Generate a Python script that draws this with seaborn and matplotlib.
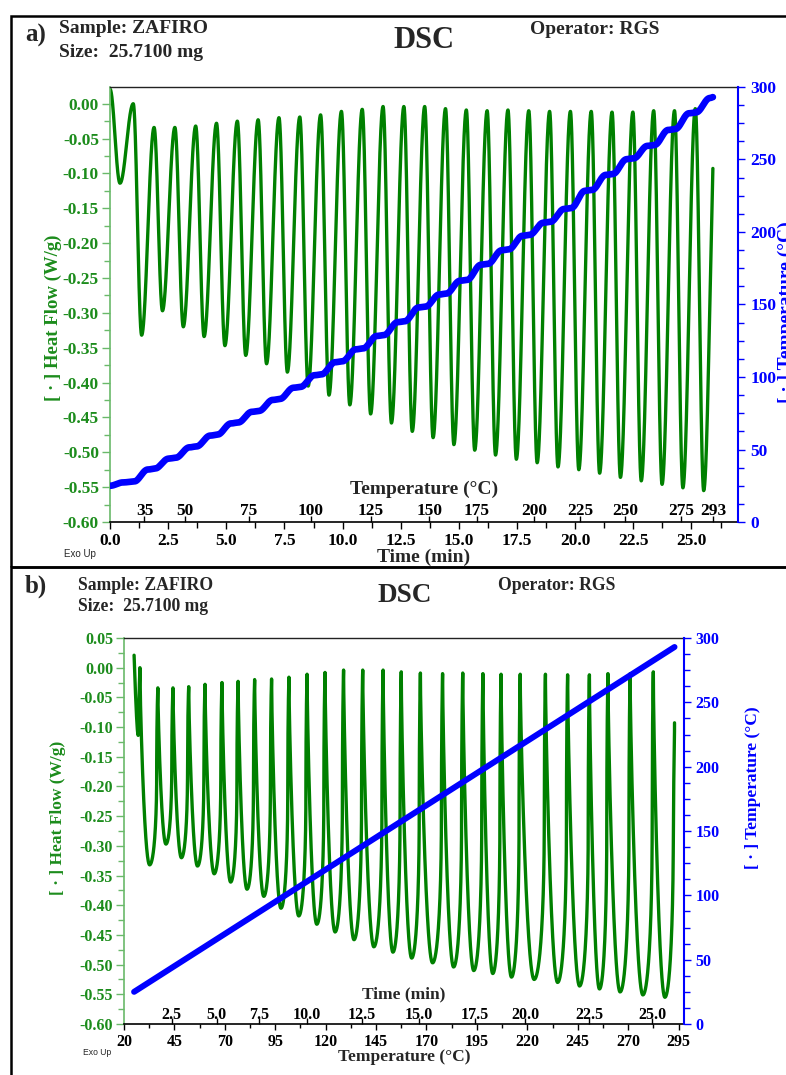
import numpy as np
import matplotlib
matplotlib.use("Agg")
import matplotlib.pyplot as plt
from matplotlib.ticker import MultipleLocator, FixedLocator, FuncFormatter
from matplotlib.patches import Rectangle
import seaborn as sns

# ---------------------------------------------------------------------------
# Modulated DSC run: sample ZAFIRO, 25.7100 mg, operator RGS
# ---------------------------------------------------------------------------
sample_label = "Sample: ZAFIRO"
size_label = "Size:  25.7100 mg"
operator_label = "Operator: RGS"

cycle_period = 0.895        # min, modulation period
first_peak_time = 1.00      # min, first heat-flow maximum
trough_lag = 0.36           # min from each maximum to the following minimum
run_end = 25.92             # min, last recorded point

hf_start = 0.021            # W/g at t = 0
hf_first_dip = -0.114       # W/g, start-up dip
hf_first_dip_time = 0.43    # min
hf_last_rise = -0.005       # W/g, level the final upswing heads for

# heat-flow maxima, one per modulation cycle (W/g)
hf_peaks = [0.000, -0.034, -0.034, -0.032, -0.028, -0.025, -0.023, -0.020,
            -0.019, -0.016, -0.011, -0.008, -0.004, -0.004, -0.004, -0.007,
            -0.009, -0.010, -0.009, -0.010, -0.011, -0.011, -0.011, -0.012,
            -0.012, -0.010, -0.010, -0.007]
# heat-flow minima following each maximum (W/g)
hf_troughs = [-0.332, -0.297, -0.320, -0.334, -0.347, -0.361, -0.373, -0.385,
              -0.405, -0.418, -0.432, -0.445, -0.458, -0.470, -0.479, -0.489,
              -0.497, -0.504, -0.510, -0.515, -0.521, -0.525, -0.530, -0.536,
              -0.541, -0.546, -0.551, -0.555]

# sample temperature at the end of each isothermal step (°C)
temp_start = 25.0
plateau_temps = [27.9, 36.8, 44.3, 52.1, 60.2, 68.6, 76.6, 84.8, 93.2, 101.8,
                 110.8, 119.7, 128.9, 138.4, 148.5, 157.5, 167.0, 178.0, 188.0,
                 198.0, 207.0, 216.5, 229.0, 240.0, 250.8, 260.0, 271.0, 282.5,
                 293.0]
plateau_drift = 0.6         # °C creep across an isothermal step
heat_on_delay = 0.03        # min after a heat-flow maximum
heat_on_length = 0.60       # min of active heating per cycle

# secondary scale labels
temp_marks_a = [35, 50, 75, 100, 125, 150, 175, 200, 225, 250, 275, 293]
time_marks_b = [2.5, 5.0, 7.5, 10.0, 12.5, 15.0, 17.5, 20.0, 22.5, 25.0]


def eased_path(grid, knot_t, knot_v):
    """Join consecutive knots with half-cosine segments."""
    knot_t = np.asarray(knot_t, float)
    knot_v = np.asarray(knot_v, float)
    idx = np.clip(np.searchsorted(knot_t, grid, side="right") - 1, 0, len(knot_t) - 2)
    t0, t1 = knot_t[idx], knot_t[idx + 1]
    v0, v1 = knot_v[idx], knot_v[idx + 1]
    u = np.clip((grid - t0) / (t1 - t0), 0.0, 1.0)
    return v0 + (v1 - v0) * (1.0 - np.cos(np.pi * u)) / 2.0


n_cycles = len(hf_peaks)
peak_times = first_peak_time + cycle_period * np.arange(n_cycles)
trough_times = peak_times + trough_lag

hf_knot_t = [0.0, hf_first_dip_time]
hf_knot_v = [hf_start, hf_first_dip]
for k in range(n_cycles):
    hf_knot_t += [peak_times[k], trough_times[k]]
    hf_knot_v += [hf_peaks[k], hf_troughs[k]]
hf_knot_t.append(trough_times[-1] + cycle_period - trough_lag)
hf_knot_v.append(hf_last_rise)

tp_knot_t = [0.0, 0.56]
tp_knot_v = [temp_start, plateau_temps[0] - plateau_drift]
for k in range(n_cycles):
    tp_knot_t += [peak_times[k] + heat_on_delay,
                  peak_times[k] + heat_on_delay + heat_on_length]
    tp_knot_v += [plateau_temps[k], plateau_temps[k + 1] - plateau_drift]
tp_knot_t.append(run_end)
tp_knot_v.append(plateau_temps[-1])

minutes = np.arange(0.0, run_end + 1e-9, 0.004)
heat_flow = eased_path(minutes, hf_knot_t, hf_knot_v)
temperature = eased_path(minutes, tp_knot_t, tp_knot_v)

# where the secondary scales fall on each primary axis
temp_mark_pos = np.interp(temp_marks_a, temperature, minutes)
time_mark_pos = np.interp(time_marks_b, minutes, temperature)

# ---------------------------------------------------------------------------
# Figure
# ---------------------------------------------------------------------------
sns.set_style("ticks")
plt.rcParams.update({
    "font.family": ["Liberation Serif", "DejaVu Sans"],
    "font.weight": "bold",
    "axes.unicode_minus": False,
    "axes.linewidth": 1.0,
})

W, H, DPI = 786, 1075, 100
GREEN_LINE = "#008000"
GREEN_TEXT = "#1c8c1c"
GREEN_AXIS = "#6ab96a"
BLUE = "#0000ff"

fig = plt.figure(figsize=(W / DPI, H / DPI), dpi=DPI)


def fx(px):
    return px / W


def fy(py):
    return 1.0 - py / H


def box(left, top, right, bottom):
    return [fx(left), fy(bottom), (right - left) / W, (bottom - top) / H]


def hf_fmt(v, _):
    s = f"{v:.2f}"
    return "0.00" if s == "-0.00" else s


def style_heat_axis(ax, size, pad):
    ax.yaxis.set_major_locator(MultipleLocator(0.05))
    ax.yaxis.set_minor_locator(MultipleLocator(0.025))
    ax.yaxis.set_major_formatter(FuncFormatter(hf_fmt))
    ax.tick_params(axis="y", which="both", direction="out", colors=GREEN_AXIS,
                   labelcolor=GREEN_TEXT, labelsize=size, pad=pad, width=1.0)
    ax.tick_params(axis="y", which="major", length=6)
    ax.tick_params(axis="y", which="minor", length=4)
    ax.spines["left"].set_color(GREEN_AXIS)
    ax.spines["left"].set_linewidth(1.2)
    ax.spines["right"].set_visible(False)
    ax.spines["top"].set_color("#222222")
    ax.spines["top"].set_linewidth(1.0)
    ax.spines["bottom"].set_color("black")
    ax.spines["bottom"].set_linewidth(1.2)
    ax.set_xlabel("")
    ax.set_ylabel("")


def style_temp_axis(axr, size, pad):
    axr.set_ylim(0, 300)
    axr.yaxis.set_major_locator(MultipleLocator(50))
    axr.yaxis.set_minor_locator(MultipleLocator(12.5))
    axr.yaxis.set_major_formatter(FuncFormatter(lambda v, _: f"{v:.0f}"))
    axr.tick_params(axis="y", which="both", direction="out", colors=BLUE,
                    labelcolor=BLUE, labelsize=size, pad=pad, width=1.0)
    axr.tick_params(axis="y", which="major", length=5)
    axr.tick_params(axis="y", which="minor", length=4)
    for side in ("left", "top", "bottom"):
        axr.spines[side].set_visible(False)
    axr.spines["right"].set_color(BLUE)
    axr.spines["right"].set_linewidth(1.5)
    axr.set_xlabel("")
    axr.set_ylabel("")


def header(tag, xl, tag_base, s1_base, s2_base, dsc_x, dsc_base, op_x, op_base,
           tag_size, txt_size, dsc_size):
    fig.text(fx(25), fy(tag_base), tag, fontsize=tag_size, va="baseline", ha="left")
    fig.text(fx(xl), fy(s1_base), sample_label, fontsize=txt_size, va="baseline", ha="left")
    fig.text(fx(xl), fy(s2_base), size_label, fontsize=txt_size, va="baseline", ha="left")
    fig.text(fx(dsc_x), fy(dsc_base), "DSC", fontsize=dsc_size, va="baseline", ha="center")
    fig.text(fx(op_x), fy(op_base), operator_label, fontsize=txt_size, va="baseline", ha="left")


# ---------------- panel a: signals against time ----------------
ax_a = fig.add_axes(box(110, 87, 738, 522))
sns.lineplot(x=minutes, y=heat_flow, ax=ax_a, color=GREEN_LINE, linewidth=2.4,
             estimator=None, sort=False)
ax_a.set_xlim(0, 27)
ax_a.set_ylim(-0.60, 0.024)
style_heat_axis(ax_a, 12.5, 2.0)
ax_a.xaxis.set_major_locator(MultipleLocator(2.5))
ax_a.xaxis.set_minor_locator(MultipleLocator(1.25))
ax_a.xaxis.set_major_formatter(FuncFormatter(lambda v, _: f"{v:.1f}"))
ax_a.tick_params(axis="x", which="both", direction="out", colors="black",
                 labelsize=12.5, pad=3.2, width=1.0)
ax_a.tick_params(axis="x", which="major", length=5)
ax_a.tick_params(axis="x", which="minor", length=4)

axr_a = ax_a.twinx()
sns.lineplot(x=minutes, y=temperature, ax=axr_a, color=BLUE, linewidth=4.8,
             estimator=None, sort=False, solid_capstyle="round")
style_temp_axis(axr_a, 12.5, 4.0)

axt_a = ax_a.twiny()
axt_a.set_xlim(ax_a.get_xlim())
axt_a.xaxis.set_ticks_position("bottom")
axt_a.set_xticks(temp_mark_pos, labels=[str(v) for v in temp_marks_a])
axt_a.tick_params(axis="x", direction="in", length=4, width=1.0, colors="black",
                  labelsize=12.5, pad=-13.9)
for sp in axt_a.spines.values():
    sp.set_visible(False)

fig.text(fx(424), fy(489), "Temperature (°C)", fontsize=14, ha="center", va="center")
fig.text(fx(424), fy(557), "Time (min)", fontsize=14, ha="center", va="center")
fig.text(fx(53), fy(318), "[ · ] Heat Flow (W/g)", fontsize=13.5, color=GREEN_TEXT,
         rotation=90, ha="center", va="center")
fig.text(fx(786), fy(312), "[ · ] Temperature (°C)", fontsize=14, color=BLUE,
         rotation=90, ha="center", va="center")
fig.text(fx(64), fy(554), "Exo Up", fontsize=7, family="Liberation Sans",
         weight="normal", ha="left", va="center")
header("a)", 59, 41.7, 33.3, 56.7, 424, 48.3, 530, 34, 18, 14, 22)

# ---------------- panel b: signals against temperature ----------------
ax_b = fig.add_axes(box(124, 638, 684, 1024))
sns.lineplot(x=temperature, y=heat_flow, ax=ax_b, color=GREEN_LINE, linewidth=2.4,
             estimator=None, sort=False)
ax_b.set_xlim(20, 297.7)
ax_b.set_ylim(-0.60, 0.05)
style_heat_axis(ax_b, 11.5, 1.8)
ax_b.xaxis.set_major_locator(FixedLocator(np.arange(20, 296, 25)))
ax_b.xaxis.set_minor_locator(FixedLocator(np.arange(32.5, 296, 25)))
ax_b.xaxis.set_major_formatter(FuncFormatter(lambda v, _: f"{v:.0f}"))
ax_b.tick_params(axis="x", which="both", direction="out", colors="black",
                 labelsize=11.5, pad=3.0, width=1.0)
ax_b.tick_params(axis="x", which="major", length=4)
ax_b.tick_params(axis="x", which="minor", length=3)

axr_b = ax_b.twinx()
sns.lineplot(x=temperature, y=temperature, ax=axr_b, color=BLUE, linewidth=4.3,
             estimator=None, sort=False, solid_capstyle="round")
style_temp_axis(axr_b, 11.5, 3.4)

axt_b = ax_b.twiny()
axt_b.set_xlim(ax_b.get_xlim())
axt_b.xaxis.set_ticks_position("bottom")
axt_b.set_xticks(time_mark_pos, labels=[f"{v:.1f}" for v in time_marks_b])
axt_b.tick_params(axis="x", direction="in", length=4, width=1.0, colors="black",
                  labelsize=11.5, pad=-12.5)
for sp in axt_b.spines.values():
    sp.set_visible(False)

fig.text(fx(404), fy(994), "Time (min)", fontsize=12.5, ha="center", va="center")
fig.text(fx(404), fy(1057), "Temperature (°C)", fontsize=12.5, ha="center", va="center")
fig.text(fx(58), fy(818), "[ · ] Heat Flow (W/g)", fontsize=12.5, color=GREEN_TEXT,
         rotation=90, ha="center", va="center")
fig.text(fx(753), fy(788), "[ · ] Temperature (°C)", fontsize=12.5, color=BLUE,
         rotation=90, ha="center", va="center")
fig.text(fx(83), fy(1052.5), "Exo Up", fontsize=6.2, family="Liberation Sans",
         weight="normal", ha="left", va="center")
header("b)", 78, 593, 590, 610.7, 405, 601.7, 498, 590, 18, 12.7, 19.5)

# ---------------- panel frames ----------------
fig.add_artist(Rectangle((fx(11), fy(567)), 1.2, fy(16) - fy(567), transform=fig.transFigure,
                         fill=False, edgecolor="black", linewidth=1.8, clip_on=False))
fig.add_artist(Rectangle((fx(11), -0.2), 1.2, fy(567) + 0.2, transform=fig.transFigure,
                         fill=False, edgecolor="black", linewidth=1.8, clip_on=False))

fig.savefig("out.png", dpi=DPI)
